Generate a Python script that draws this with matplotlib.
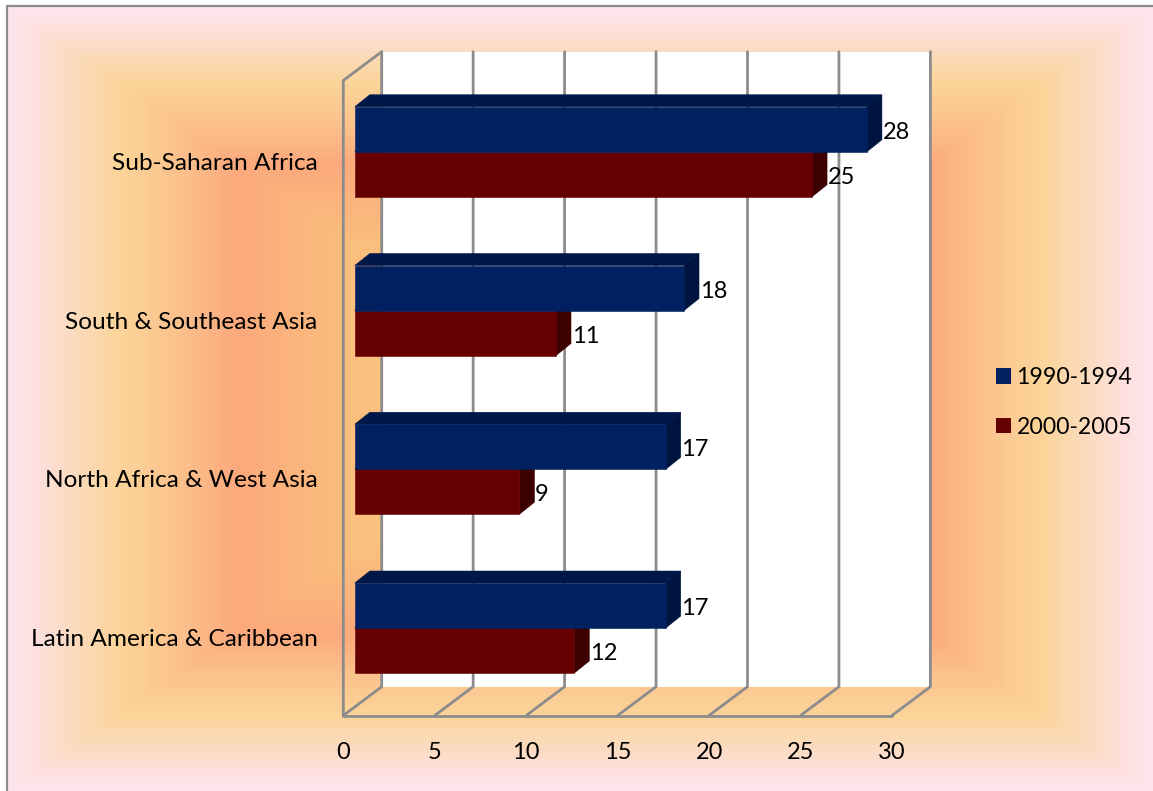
"""Horizontal bars with a drawn-in 3D box, on a rectangular gradient panel."""
import numpy as np
import matplotlib
matplotlib.use("Agg")
import matplotlib.pyplot as plt
from matplotlib.colors import LinearSegmentedColormap
from matplotlib.lines import Line2D
from matplotlib.patches import Patch, Polygon
from matplotlib.transforms import Affine2D

regions = ["Latin America & Caribbean", "North Africa & West Asia",
           "South & Southeast Asia", "Sub-Saharan Africa"]
series_names = ["1990-1994", "2000-2005"]
values_1990 = [17, 17, 18, 28]
values_2000 = [12, 9, 11, 25]
x_ticks = [0, 5, 10, 15, 20, 25, 30]

W, H = 1153, 791
FONT = "Lato"
FS = 17
FS_CAT = 17.6
FS_LEG = 16.6
GRID = "#8C8C8C"
BLUE, BLUE_TOP, BLUE_SIDE = "#002060", "#00174A", "#001440"
RED, RED_SIDE = "#660000", "#3D0000"

# box geometry in pixels
X0, X30, Y0, YTOP = 343.3, 892, 715.5, 80.5
WALL_DX, WALL_DY = 38.4, 28.8
BAR_SHIFT = (11.5, 8.1)
BAR_DX, BAR_DY = 15, 12
BAR_H = 45

fig = plt.figure(figsize=(W / 100, H / 100), dpi=100, facecolor="white")

# gradient panel: concentric rectangles from the panel edge inwards
PX, PY = 8, 7
bg = fig.add_axes([PX / W, 0, (W - PX) / W, (H - PY) / H])
bg.axis("off")
grad = LinearSegmentedColormap.from_list("panel", [
    (0.00, "#FDE4EF"), (0.05, "#FDE0DC"), (0.10, "#FCDCC4"), (0.19, "#FBD59A"),
    (0.30, "#FBC18C"), (0.40, "#FCA97C"), (0.50, "#FBB47C"), (0.62, "#FAC07E"),
    (1.00, "#FBD59A")])
xx = np.linspace(-1, 1, W - PX)
yy = np.linspace(-1, 1, H - PY)
bg.imshow(1 - np.maximum(np.abs(xx)[None, :], np.abs(yy)[:, None]), cmap=grad,
          vmin=0, vmax=1, aspect="auto")
fig.add_artist(Line2D([7 / W, 7 / W, 1], [0, 1 - 6 / H, 1 - 6 / H], color=GRID, lw=1.6))

ax = fig.add_axes([X0 / W, 1 - Y0 / H, (X30 - X0) / W, (Y0 - YTOP) / H])
ax.patch.set_alpha(0)
for s in ax.spines.values():
    s.set_visible(False)
ax.set_xlim(0, 30)
ax.set_ylim(0, len(regions))

px_x = (X30 - X0) / 30
px_y = (Y0 - YTOP) / len(regions)
wdx, wdy = WALL_DX / px_x, WALL_DY / px_y
ymax = len(regions)

# back wall, grid lines and the outline of the box
ax.add_patch(Polygon([(wdx, wdy), (30 + wdx, wdy), (30 + wdx, ymax + wdy), (wdx, ymax + wdy)],
                     fc="white", ec="none", clip_on=False, zorder=1))
line = dict(color=GRID, lw=2.0, clip_on=False, zorder=2, solid_capstyle="round")
for t in x_ticks:
    ax.plot([t, t + wdx, t + wdx], [0, wdy, ymax + wdy], **line)
ax.plot([0, 30], [0, 0], **line)
ax.plot([0, 0, wdx], [0, ymax, ymax + wdy], **line)

# bars sit a little behind the front plane
bar_plane = ax.transData + Affine2D().translate(*BAR_SHIFT)
ddx, ddy = BAR_DX / px_x, BAR_DY / px_y
bh = BAR_H / px_y
y_pos = np.arange(len(regions)) + 0.5


def bar_3d(v, y0, front, top, side, label, z):
    y1 = y0 + bh
    ax.barh(y0, v, height=bh, align="edge", color=front, edgecolor=front, lw=0.4,
            transform=bar_plane, clip_on=False, zorder=z + 1)
    ax.add_patch(Polygon([(0, y1), (ddx, y1 + ddy), (v + ddx, y1 + ddy), (v, y1)], fc=top, ec=top,
                         lw=0.4, transform=bar_plane, clip_on=False, zorder=z))
    ax.add_patch(Polygon([(v, y0), (v + ddx, y0 + ddy), (v + ddx, y1 + ddy), (v, y1)], fc=side, ec=side,
                         lw=0.4, transform=bar_plane, clip_on=False, zorder=z))
    ax.text(v + ddx + 0.03, y0 + bh / 2 - 3 / px_y, label, transform=bar_plane, ha="left", va="center",
            fontsize=FS, family=FONT, color="black", zorder=10)


for y, v_a, v_b in zip(y_pos, values_1990, values_2000):
    bar_3d(v_b, y - bh, RED, RED, RED_SIDE, str(v_b), 3)
    bar_3d(v_a, y, BLUE, BLUE_TOP, BLUE_SIDE, str(v_a), 5)

ax.set_xticks(x_ticks)
ax.set_yticks(y_pos)
ax.set_yticklabels(regions)
ax.tick_params(axis="both", length=0, labelsize=FS, labelfontfamily=FONT, labelcolor="black")
ax.tick_params(axis="y", labelsize=FS_CAT, pad=18.5)
ax.tick_params(axis="x", pad=19)
for lab in ax.get_yticklabels():
    lab.set_transform(lab.get_transform() + Affine2D().translate(0, -1.5))

handles = [Patch(fc=BLUE, ec="none"), Patch(fc=RED, ec="none")]
fig.legend(handles, series_names, loc="upper left", bbox_to_anchor=(995.5 / W, 1 - 367 / H),
           frameon=False, prop={"family": FONT, "size": FS_LEG}, borderpad=0, borderaxespad=0,
           handlelength=0.66, handleheight=0.66, handletextpad=0.25, labelspacing=1.25)

fig.savefig("out.png", dpi=100)
